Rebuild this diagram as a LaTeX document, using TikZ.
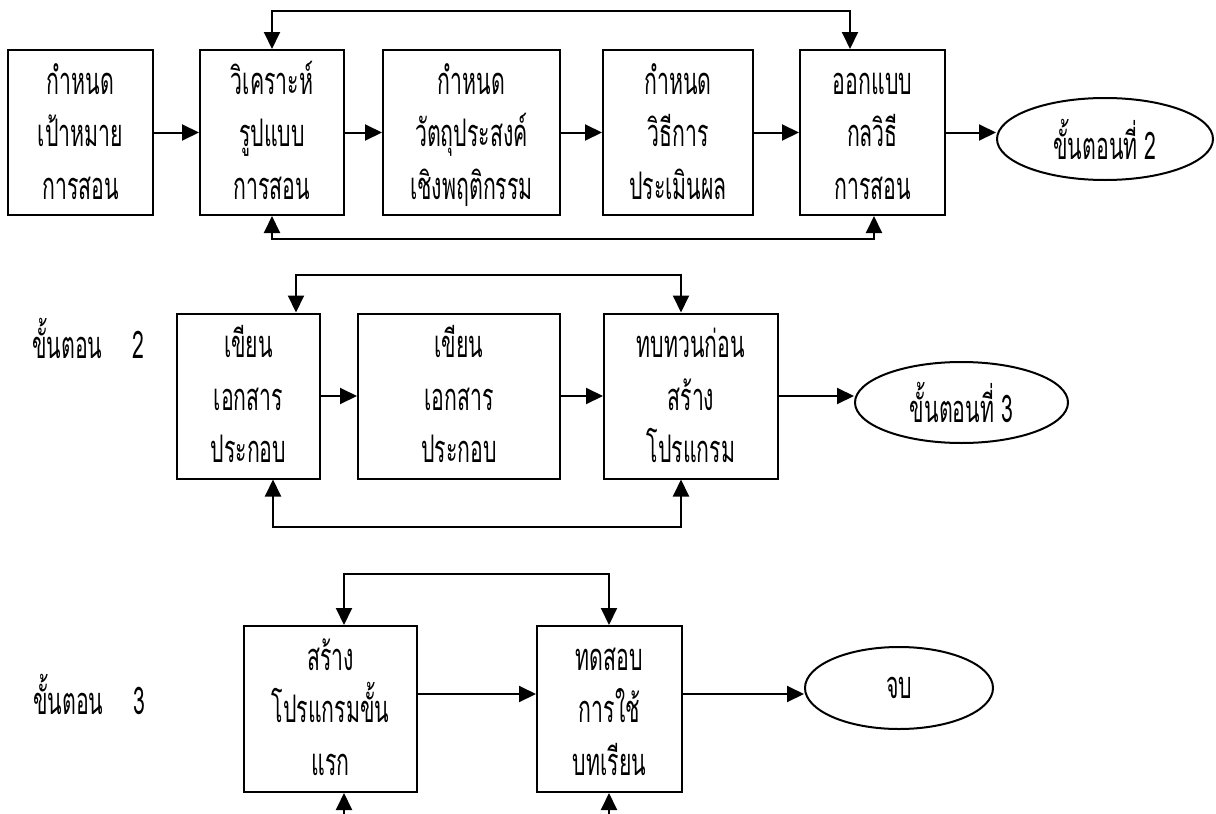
\documentclass[tikz,border=0pt]{standalone}
\usepackage{fontspec}
\newfontfamily\thaifont[Script=Thai,FakeStretch=0.56]{Loma}
\usetikzlibrary{arrows.meta,shapes.geometric}
\tikzset{
  stepbox/.style={draw, line width=2pt, rectangle, inner sep=0pt, align=center,
    font=\thaifont\fontsize{38}{52.5}\selectfont, minimum height=165pt,
    text height=149pt, text depth=16pt},
  endoval/.style={draw, line width=2pt, ellipse, inner sep=0pt,
    font=\thaifont\fontsize{38}{40}\selectfont},
  steplabel/.style={font=\thaifont\fontsize{38}{40}\selectfont, inner sep=0pt, anchor=base west},
  arr/.style={line width=2pt, -{Triangle[length=17pt,width=16pt]}},
  arrboth/.style={line width=2pt, {Triangle[length=17pt,width=16pt]}-{Triangle[length=17pt,width=16pt]}},
}
\begin{document}
\begin{tikzpicture}[x=1pt,y=-1pt]
\useasboundingbox (0,0) rectangle (1216,814);
% ---------- row 1 ----------
\node[stepbox, minimum width=145pt] (b1) at (80.5,132.5) {กำหนด\\เป้าหมาย\\การสอน};
\node[stepbox, minimum width=144pt] (b2) at (272,132.5) {วิเคราะห์\\รูปแบบ\\การสอน};
\node[stepbox, minimum width=177pt] (b3) at (471.5,132.5) {กำหนด\\วัตถุประสงค์\\เชิงพฤติกรรม};
\node[stepbox, minimum width=150pt] (b4) at (678,132.5) {กำหนด\\วิธีการ\\ประเมินผล};
\node[stepbox, minimum width=145pt] (b5) at (872.5,132.5) {ออกแบบ\\กลวิธี\\การสอน};
\node[endoval, minimum width=216pt, minimum height=82pt] (e1) at (1105,139) {\raisebox{-2pt}{ขั้นตอนที่ 2}};
\draw[arr] (b1.east) -- (b2.west);
\draw[arr] (b2.east) -- (b3.west);
\draw[arr] (b3.east) -- (b4.west);
\draw[arr] (b4.east) -- (b5.west);
\draw[arr] (b5.east) -- (b5.east -| e1.west);
\coordinate (t1a) at (272,11);
\coordinate (t1b) at (850,11);
\draw[arrboth] (t1a |- b2.north) -- (t1a) -- (t1b) -- (t1b |- b5.north);
\coordinate (u1a) at (272,239);
\coordinate (u1b) at (874,239);
\draw[arrboth] (u1a |- b2.south) -- (u1a) -- (u1b) -- (u1b |- b5.south);
% ---------- row 2 ----------
\node[steplabel] (s2) at (32,358) {ขั้นตอน\hspace{30pt}2};
\node[stepbox, minimum width=143pt] (r2a) at (248.5,396) {เขียน\\เอกสาร\\ประกอบ};
\node[stepbox, minimum width=202pt] (r2b) at (459,396) {เขียน\\เอกสาร\\ประกอบ};
\node[stepbox, minimum width=174pt] (r2c) at (691,396) {ทบทวนก่อน\\สร้าง\\โปรแกรม};
\node[endoval, minimum width=213pt, minimum height=81pt] (e2) at (961.5,402.5) {\raisebox{-2pt}{ขั้นตอนที่ 3}};
\draw[arr] (r2a.east) -- (r2b.west);
\draw[arr] (r2b.east) -- (r2c.west);
\draw[arr] (r2c.east) -- (r2c.east -| e2.west);
\coordinate (t2a) at (296,275);
\coordinate (t2b) at (681,275);
\draw[arrboth] (t2a |- r2a.north) -- (t2a) -- (t2b) -- (t2b |- r2c.north);
\coordinate (u2a) at (273,527);
\coordinate (u2b) at (681,527);
\draw[arrboth] (u2a |- r2a.south) -- (u2a) -- (u2b) -- (u2b |- r2c.south);
% ---------- row 3 ----------
\node[steplabel] (s3) at (33,714) {ขั้นตอน\hspace{30pt}3};
\node[stepbox, minimum width=173pt, minimum height=166pt, text height=149pt, text depth=17pt] (r3a) at (330.5,709) {สร้าง\\โปรแกรมขั้น\\แรก};
\node[stepbox, minimum width=145pt, minimum height=166pt, text height=149pt, text depth=17pt] (r3b) at (609.5,709) {ทดสอบ\\การใช้\\บทเรียน};
\node[endoval, minimum width=188pt, minimum height=82pt] (e3) at (899,688) {\raisebox{-2pt}{จบ}};
\coordinate (y3) at (0,694);
\draw[arr] (r3a.east |- y3) -- (r3b.west |- y3);
\draw[arr] (r3b.east |- y3) -- (e3.west |- y3);
\coordinate (t3a) at (344,574);
\coordinate (t3b) at (609,574);
\draw[arrboth] (t3a |- r3a.north) -- (t3a) -- (t3b) -- (t3b |- r3b.north);
\coordinate (d3a) at (344,814);
\coordinate (d3b) at (609,814);
\draw[arr] (d3a) -- (d3a |- r3a.south);
\draw[arr] (d3b) -- (d3b |- r3b.south);
\end{tikzpicture}
\end{document}
